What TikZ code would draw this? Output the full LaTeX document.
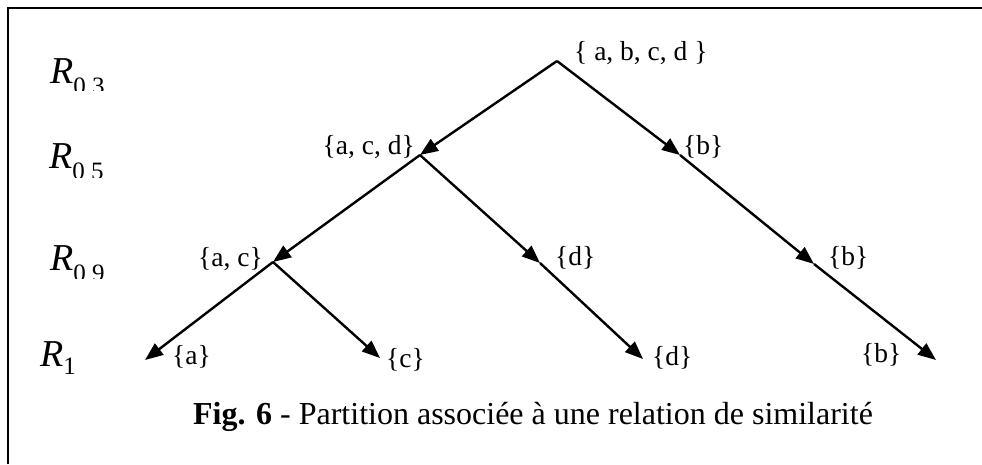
\documentclass[tikz,border=0pt]{standalone}
\usepackage{fontspec}
\setmainfont{Liberation Serif}
\usetikzlibrary{arrows.meta}
\tikzset{
  edge/.style={line width=2.4pt,-{Triangle[length=18pt,width=14pt]}},
  setlbl/.style={inner sep=0pt,font=\fontsize{27.5}{32}\selectfont},
  rowlbl/.style={inner sep=0pt,anchor=base west,font=\fontsize{38}{44}\selectfont},
  frame/.style={line width=2pt}
}
\newcommand{\rsub}[1]{\raisebox{-11pt}{\fontsize{25}{29}\selectfont #1}}
\begin{document}
\begin{tikzpicture}[x=1pt,y=-1pt]
\useasboundingbox (0,0) rectangle (982,464);
\draw[frame] (8,464) -- (8,8) -- (982,8);
% vertices
\coordinate (root) at (557,61);
\coordinate (acd) at (420,155);
\coordinate (b1) at (680,155);
\coordinate (ac) at (273,262);
\coordinate (d1) at (540,263);
\coordinate (b2) at (814,264);
\coordinate (a) at (145,360);
\coordinate (c) at (380,358);
\coordinate (d2) at (643,359);
\coordinate (b3) at (936,360);
% connectors
\draw[edge] (root) -- (acd);
\draw[edge] (root) -- (b1);
\draw[edge] (acd) -- (ac);
\draw[edge] (acd) -- (d1);
\draw[edge] (b1) -- (b2);
\draw[edge] (ac) -- (a);
\draw[edge] (ac) -- (c);
\draw[edge] (d1) -- (d2);
\draw[edge] (b2) -- (b3);
% set labels
\node[setlbl,anchor=west] (lroot) at (574,53) {\{ a, b, c, d \}};
\node[setlbl,anchor=east] (lacd) at (415,147) {\{a, c, d\}};
\node[setlbl,anchor=west] (lb1) at (683,147) {\{b\}};
\node[setlbl,anchor=east] (lac) at (263,259) {\{a, c\}};
\node[setlbl,anchor=west] (ld1) at (555,258) {\{d\}};
\node[setlbl,anchor=west] (lb2) at (828,258) {\{b\}};
\node[setlbl,anchor=west] (la) at (172,357) {\{a\}};
\node[setlbl,anchor=west] (lc) at (386,360) {\{c\}};
\node[setlbl,anchor=west] (ld2) at (652,358) {\{d\}};
\node[setlbl,anchor=west] (lb3) at (861,355) {\{b\}};
% row labels (clipped at the bottom as in the original)
\begin{scope}
\clip (40,40) rectangle (140,90);
\node[rowlbl] (r03) at (50,83) {\textit{R}\rsub{0 3}};
\end{scope}
\begin{scope}
\clip (40,130) rectangle (140,177);
\node[rowlbl] (r05) at (49,168) {\textit{R}\rsub{0 5}};
\end{scope}
\begin{scope}
\clip (40,230) rectangle (140,278);
\node[rowlbl] (r09) at (50,270) {\textit{R}\rsub{0 9}};
\end{scope}
\begin{scope}
\clip (30,320) rectangle (140,378);
\node[rowlbl] (r1) at (40,366) {\textit{R}\raisebox{-8pt}{\fontsize{25}{29}\selectfont 1}};
\end{scope}
% caption
\node[inner sep=0pt,font=\fontsize{32}{36}\selectfont] (cap) at (533,417) {\textbf{Fig. 6} - Partition associée à une relation de similarité};
\end{tikzpicture}
\end{document}
